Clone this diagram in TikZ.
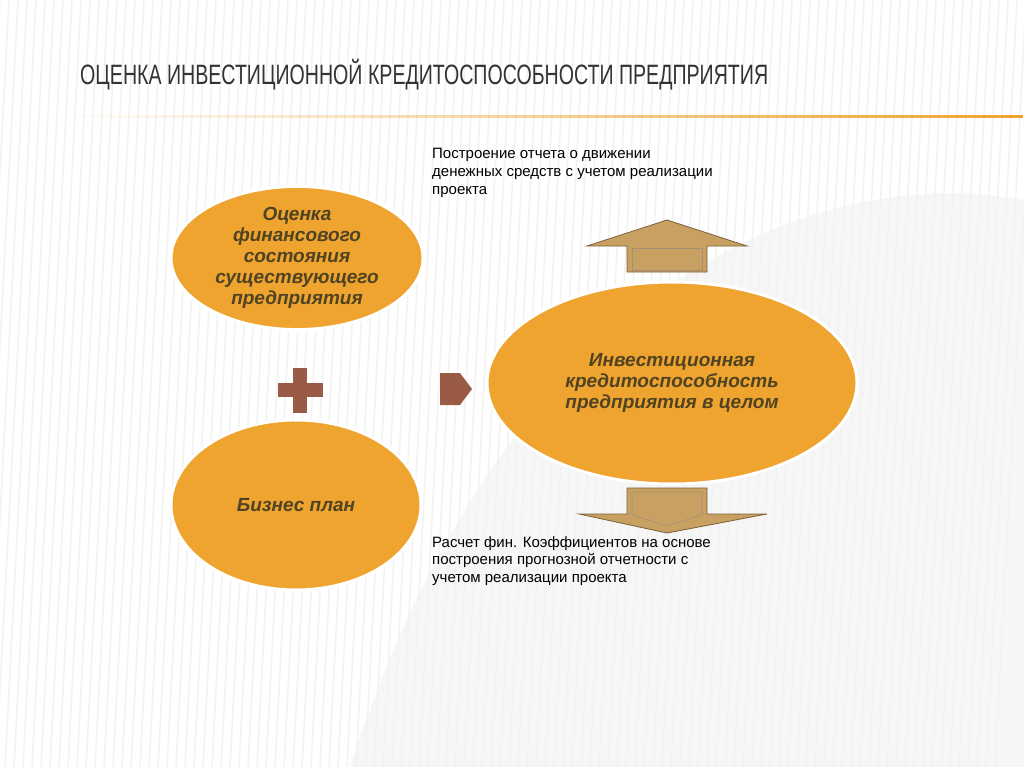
\documentclass[tikz,border=0pt]{standalone}
\usepackage{fontspec}
\setmainfont{Liberation Sans}
\newfontfamily\titlefont[FakeStretch=0.7]{Liberation Sans}
\usetikzlibrary{shapes.geometric,fadings,calc}
\definecolor{orng}{HTML}{EFA430}
\definecolor{ovaltext}{HTML}{4F4322}
\definecolor{brownsym}{HTML}{9A5B46}
\definecolor{tan}{HTML}{C8A062}
\definecolor{tanedge}{HTML}{7E6038}
\definecolor{titlegray}{HTML}{333333}
\tikzfading[name=lineleft, left color=transparent!100, right color=transparent!0]
\tikzset{
  oval/.style={ellipse, fill=orng, draw=white, line width=3pt, inner sep=0pt,
    font=\fontsize{19}{21}\selectfont\bfseries\itshape, text=ovaltext, align=center},
  smalltext/.style={font=\fontsize{15}{17.8}\selectfont, text=black, align=left, anchor=north west, inner sep=0pt},
  symb/.style={fill=brownsym, draw=none},
  blockarrow/.style={fill=tan, draw=tanedge, line width=0.8pt},
}
\begin{document}
\begin{tikzpicture}[x=1pt,y=-1pt]
\useasboundingbox (0,0) rectangle (1024,767);
\fill[white] (0,0) rectangle (1024,767);
% faint background
\fill[gray!7] (1024,200) .. controls (800,160) and (500,300) .. (350,767) -- (1024,767) -- cycle;
\foreach \i in {0,9,...,1040} {
  \draw[gray!10, line width=1.5pt] (\i,0) -- (\i-40,767);
}
% title
\node[anchor=west, inner sep=0pt, text=titlegray, font=\titlefont\fontsize{28}{30}\selectfont] (title) at (80,75) {ОЦЕНКА ИНВЕСТИЦИОННОЙ КРЕДИТОСПОСОБНОСТИ ПРЕДПРИЯТИЯ};
\fill[orng, path fading=lineleft] (62,115.5) rectangle (1024,118.5);
% texts
\node[smalltext] (toptext) at (432,148) {Построение отчета о движении\\денежных средств с учетом реализации\\проекта};
\node[smalltext] (bottext) at (432,536) {Расчет фин. Коэффициентов на основе\\построения прогнозной отчетности с\\учетом реализации проекта};
% ovals
\node[oval, minimum width=252pt, minimum height=134pt] (fin) at (297,258) {Оценка\\финансового\\состояния\\существующего\\предприятия};
\node[oval, minimum width=250pt, minimum height=170pt] (biz) at (296,505) {Бизнес план};
\node[oval, minimum width=370pt, minimum height=202pt] (inv) at (672,383) {Инвестиционная\\кредитоспособность\\предприятия в целом};
% plus
\coordinate (plus) at (300,390);
\fill[symb] ($(plus)+(-22.5,-7)$) rectangle ($(plus)+(22.5,7)$);
\fill[symb] ($(plus)+(-7,-22.5)$) rectangle ($(plus)+(7,22.5)$);
% small arrow
\coordinate (sarr) at (456,388);
\fill[symb] ($(sarr)+(-16,-15)$) -- ($(sarr)+(4,-15)$) -- ($(sarr)+(16,1)$) -- ($(sarr)+(4,17)$) -- ($(sarr)+(-16,17)$) -- cycle;
% up arrow
\coordinate (up) at (667,220);
\filldraw[blockarrow] (up) -- ($(up)+(80,26)$) -- ($(up)+(40,26)$) -- ($(up)+(40,52)$) -- ($(up)+(-40,52)$) -- ($(up)+(-40,26)$) -- ($(up)+(-80,26)$) -- cycle;
\draw[tanedge!70, line width=0.6pt] ($(up)+(-35,28)$) rectangle ($(up)+(35,50)$);
% down arrow
\coordinate (dn) at (667,533);
\filldraw[blockarrow] (dn) -- ($(dn)+(100,-19)$) -- ($(dn)+(40,-19)$) -- ($(dn)+(40,-45)$) -- ($(dn)+(-40,-45)$) -- ($(dn)+(-40,-19)$) -- ($(dn)+(-88,-19)$) -- cycle;
\draw[tanedge!70, line width=0.6pt] ($(dn)+(-35,-41)$) -- ($(dn)+(35,-41)$) -- ($(dn)+(35,-18)$) -- ($(dn)+(0,-7)$) -- ($(dn)+(-35,-18)$) -- cycle;
\end{tikzpicture}
\end{document}
